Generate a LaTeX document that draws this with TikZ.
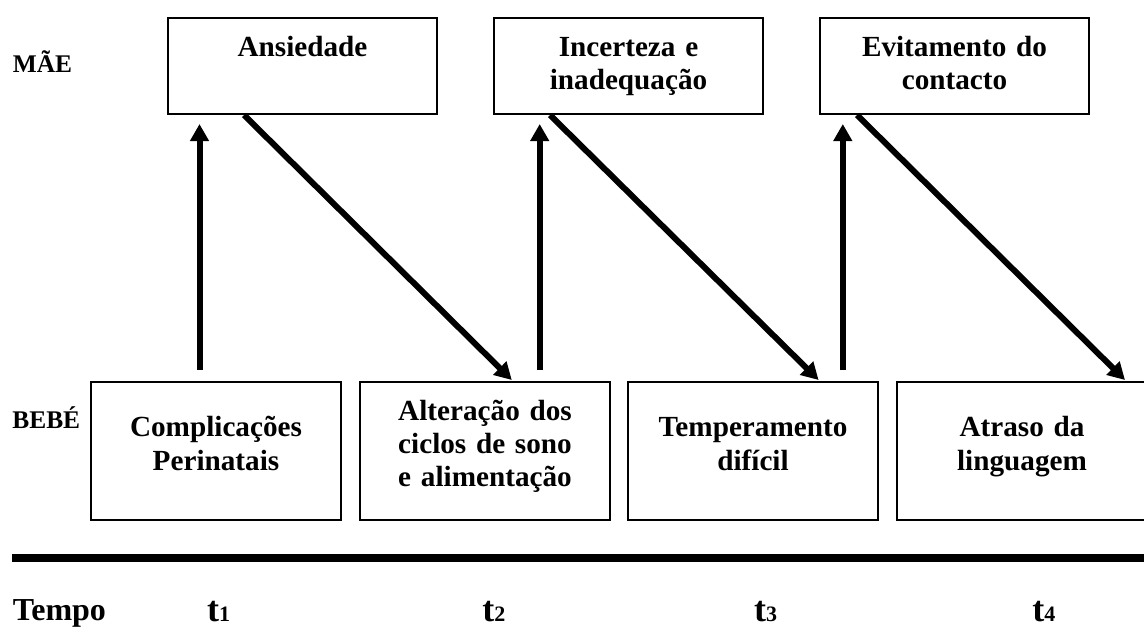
\documentclass[tikz,border=0pt]{standalone}
\usepackage{fontspec}
\setmainfont{Liberation Serif}
\usetikzlibrary{arrows.meta}

\begin{document}
\begin{tikzpicture}[x=0.5pt,y=-0.5pt,
  mae box/.style={draw,line width=1pt,inner sep=0pt,
    minimum width=134.5pt,text width=134.5pt,align=center,
    text height=19pt,text depth=29pt,
    font=\fontsize{14.6}{16.7}\selectfont\bfseries},
  bebe box/.style 2 args={draw,line width=1pt,inner sep=0pt,
    minimum width=125pt,text width=125pt,align=center,
    text height=#1,text depth=#2,
    font=\fontsize{14.6}{16.7}\selectfont\bfseries},
  side/.style={inner sep=0pt,anchor=base west,
    font=\fontsize{12.7}{15}\selectfont\bfseries},
  tick/.style={inner sep=0pt,anchor=base west,
    font=\fontsize{18}{21}\selectfont\bfseries},
  up/.style={line width=3pt,-{Triangle[length=8.5pt,width=9pt]}},
  down/.style={line width=3pt,-{Triangle[length=8.5pt,width=9pt]}}]

  \useasboundingbox (0,0) rectangle (1144,628);

  % MAE

  \node [side] (mae) at (12.5,72.7) {MÃE};
  \node [mae box] (ans) at (302.5,66) {Ansiedade};
  \node [mae box] (inc) at (628.5,66) {Incerteza e\\inadequação};
  \node [mae box] (evi) at (954.5,66) {Evitamento do\\contacto};

  % BEBE

  \node [side] (bebe) at (12,428) {BEBÉ};
  \node [bebe box={27.3pt}{41.7pt}] (com) at (216,451) {Complicações\\Perinatais};
  \node [bebe box={19pt}{50pt}] (alt) at (485,451) {Alteração dos\\ciclos de sono\\e alimentação};
  \node [bebe box={27.3pt}{41.7pt}] (tem) at (753,451) {Temperamento\\difícil};
  \node [bebe box={27.3pt}{41.7pt}] (atr) at (1022,451) {Atraso da\\linguagem};

  % bebe -> mae

  \draw [up] ([xshift=54.75pt,yshift=5.5pt]com.north west) -- ([xshift=16.25pt,yshift=-4.5pt]ans.south west);
  \draw [up] ([xshift=90.35pt,yshift=5.5pt]alt.north west) -- ([xshift=23.35pt,yshift=-4.5pt]inc.south west);
  \draw [up] ([xshift=107.9pt,yshift=5.5pt]tem.north west) -- ([xshift=11.9pt,yshift=-4.5pt]evi.south west);

  % mae -> bebe

  \draw [down] ([xshift=38.5pt]ans.south west) -- ([xshift=76.4pt,yshift=0.5pt]alt.north west);
  \draw [down] ([xshift=28.5pt]inc.south west) -- ([xshift=95.8pt,yshift=0.5pt]tem.north west);
  \draw [down] ([xshift=19pt]evi.south west) -- ([xshift=114.5pt,yshift=0.5pt]atr.north west);

  % Tempo

  \draw [line width=4pt] (12,557.5) coordinate (axis) -- (1144,557.5);
  \node [side,font=\fontsize{16}{19}\selectfont\bfseries] (tempo) at (12.5,620) {Tempo};
  \node [tick] (t1) at (206.7,621) {t{\fontsize{11}{13}\selectfont 1}};
  \node [tick] (t2) at (482,621) {t{\fontsize{11}{13}\selectfont 2}};
  \node [tick] (t3) at (753.7,621) {t{\fontsize{11}{13}\selectfont 3}};
  \node [tick] (t4) at (1032,621) {t{\fontsize{11}{13}\selectfont 4}};
\end{tikzpicture}
\end{document}
